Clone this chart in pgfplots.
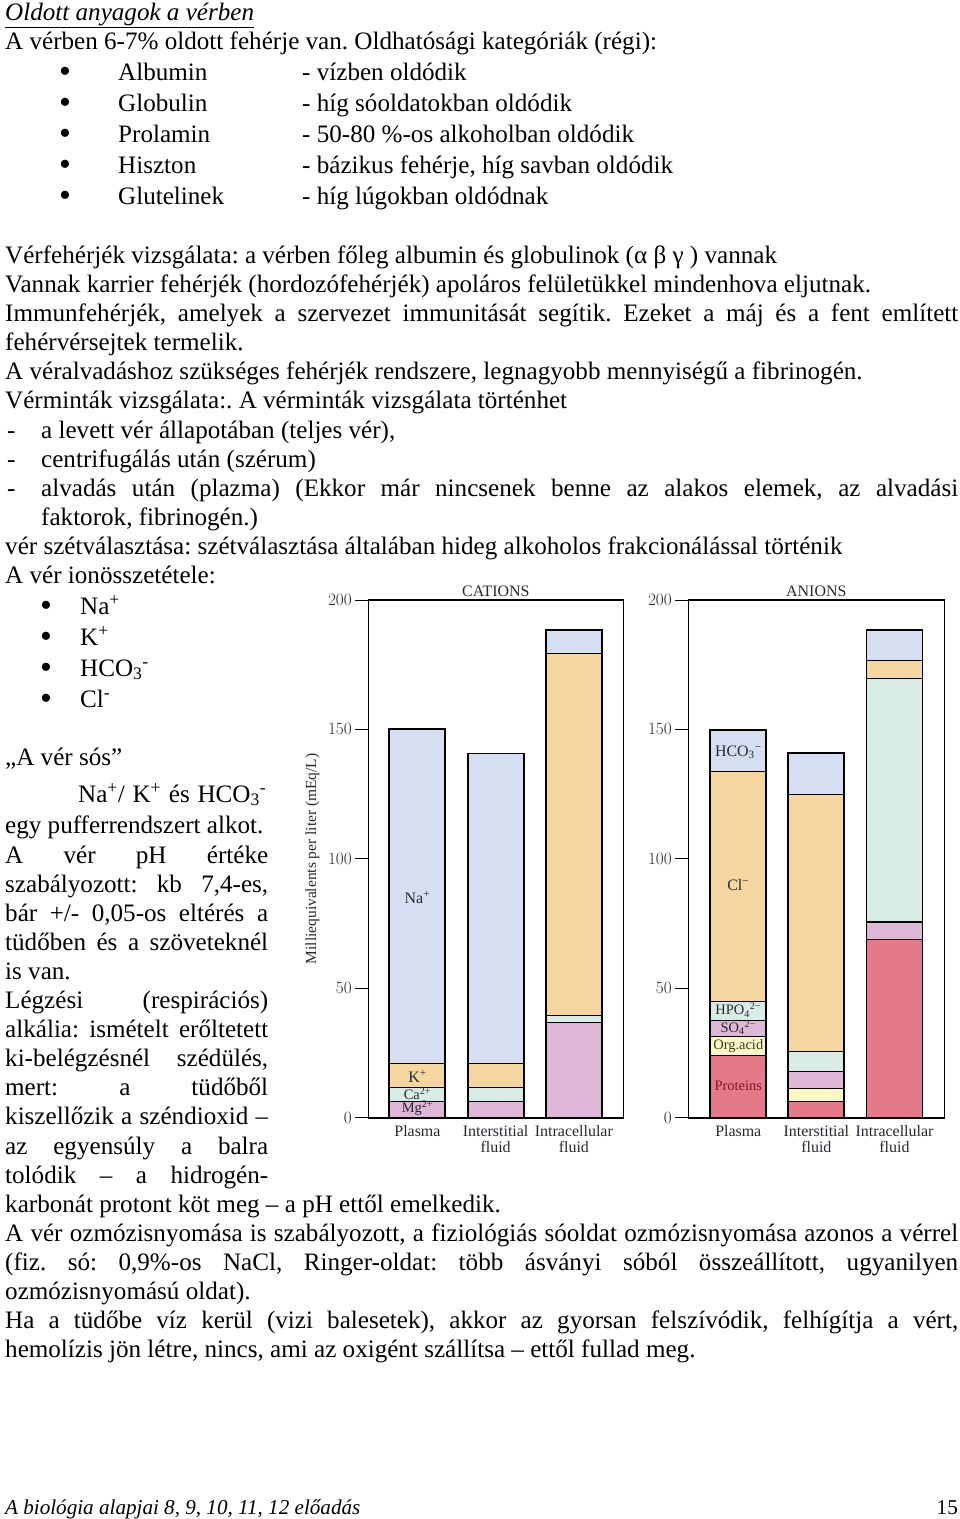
\documentclass[border=0pt]{standalone}
\usepackage{fontspec}
\setmainfont{Liberation Serif}
\usepackage{pgfplots}
\usepackage{pgfplotstable}
\pgfplotsset{compat=1.18}
\frenchspacing

\definecolor{cblue}{RGB}{214,223,242}
\definecolor{corange}{RGB}{246,214,160}
\definecolor{cgreen}{RGB}{216,235,228}
\definecolor{cpink}{RGB}{221,183,213}
\definecolor{cyellow}{RGB}{252,246,198}
\definecolor{cred}{RGB}{227,121,137}
\definecolor{ctext}{RGB}{40,40,50}
\definecolor{corg}{RGB}{60,60,30}
\definecolor{cprot}{RGB}{125,25,45}

\newcommand\body{\fontsize{25.2}{29}\selectfont}
\newcommand\chartfs{\fontsize{16}{16}\selectfont}
\newcommand\smallfs{\fontsize{14.5}{14.5}\selectfont}
\newcommand\bul{\raisebox{-2.5bp}{\fontsize{34}{34}\selectfont\textbullet}}
% one line of text, left aligned on its baseline
\newcommand\Tx[3]{\node[anchor=base west,inner sep=0pt,font=\body] at (#1bp,-#2bp) {#3};}
% one justified line
\newcommand\Jx[4]{\node[anchor=base west,inner sep=0pt,font=\body] at (#1bp,-#2bp) {\makebox[#3bp][s]{#4}};}

% cations, bottom to top
\pgfplotstableread{
x Mg Ca K Na tot
0 6.4 5.3 9.3 129.0 150.0
1 6.4 5.3 9.3 119.7 140.7
2 36.8 2.8 139.9 8.8 188.3
}\cations
% anions, bottom to top
\pgfplotstableread{
x Prot Org SO HPO Cl HCO tot
0 24.2 7.2 6.2 7.3 88.8 16.1 149.8
1 6.3 4.9 6.7 7.8 99.3 15.9 140.9
2 68.7 0 6.9 94.2 6.8 11.7 188.3
}\anions

\pgfplotsset{
  ionaxis/.style={
    scale only axis, height=517.7bp,
    ymin=0, ymax=200, ytick={0,50,100,150,200},
    enlargelimits=false,
    ytick pos=left, tick align=outside, major tick length=13bp,
    xtick={0,1,2},
    xticklabels={Plasma,{Interstitial\\fluid},{Intracellular\\fluid}},
    xtick style={draw=none},
    ytick style={black, line width=1bp},
    axis line style={black, line width=1.6bp},
    ticklabel style={font=\chartfs, text=ctext},
    xticklabel style={align=center, yshift=8.5bp},
    every axis title shift=0pt,
    title style={font=\chartfs, text=ctext},
    ybar stacked, bar width=56bp,
    clip=false,
  },
  outline/.style={
    scale only axis, height=517.7bp, ymin=0, ymax=200,
    enlargelimits=false, hide axis, ybar, bar width=56bp, clip=false,
  },
  seg/.style={draw=black, line width=1.1bp, fill=#1},
}
\tikzset{lab/.style={font=\chartfs, text=ctext, inner sep=0pt}}

\begin{document}
\begin{tikzpicture}
\path[use as bounding box, fill=white] (0,0) rectangle (960bp,-1519bp);

\Tx{5}{20}{\underline{\textit{Oldott anyagok a vérben}}}
\Tx{5}{49}{A vérben 6-7\% oldott fehérje van. Oldhatósági kategóriák (régi):}
\Tx{59}{80}{\bul}\Tx{118}{80}{Albumin}\Tx{302}{80}{- vízben oldódik}
\Tx{59}{111}{\bul}\Tx{118}{111}{Globulin}\Tx{302}{111}{- híg sóoldatokban oldódik}
\Tx{59}{142}{\bul}\Tx{118}{142}{Prolamin}\Tx{302}{142}{- 50-80 \%-os alkoholban oldódik}
\Tx{59}{173}{\bul}\Tx{118}{173}{Hiszton}\Tx{302}{173}{- bázikus fehérje, híg savban oldódik}
\Tx{59}{204}{\bul}\Tx{118}{204}{Glutelinek}\Tx{302}{204}{- híg lúgokban oldódnak}

\Tx{5}{263}{Vérfehérjék vizsgálata: a vérben főleg albumin és globulinok (α β γ ) vannak}
\Tx{5}{292}{Vannak karrier fehérjék (hordozófehérjék) apoláros felületükkel mindenhova eljutnak.}
\Jx{5}{321}{953}{Immunfehérjék, amelyek a szervezet immunitását segítik. Ezeket a máj és a fent említett}
\Tx{5}{350}{fehérvérsejtek termelik.}
\Tx{5}{379}{A véralvadáshoz szükséges fehérjék rendszere, legnagyobb mennyiségű a fibrinogén.}
\Tx{5}{408}{Vérminták vizsgálata:. A vérminták vizsgálata történhet}
\Tx{7}{438}{-}\Tx{41}{438}{a levett vér állapotában (teljes vér),}
\Tx{7}{467}{-}\Tx{41}{467}{centrifugálás után (szérum)}
\Tx{7}{496}{-}\Jx{41}{496}{917}{alvadás után (plazma) (Ekkor már nincsenek benne az alakos elemek, az alvadási}
\Tx{41}{525}{faktorok, fibrinogén.)}
\Tx{5}{554}{vér szétválasztása: szétválasztása általában hideg alkoholos frakcionálással történik}
\Tx{5}{583}{A vér ionösszetétele:}
\Tx{40}{614}{\bul}\Tx{80}{614}{Na\textsuperscript{+}}
\Tx{40}{645}{\bul}\Tx{80}{645}{K\textsuperscript{+}}
\Tx{40}{676}{\bul}\Tx{80}{676}{HCO\textsubscript{3}\textsuperscript{-}}
\Tx{40}{707}{\bul}\Tx{80}{707}{Cl\textsuperscript{-}}

\Tx{5}{765}{„A vér sós”}
\Jx{78}{802}{188}{Na\textsuperscript{+}/ K\textsuperscript{+} és HCO\textsubscript{3}\textsuperscript{-}}
\Tx{5}{833}{egy pufferrendszert alkot.}
\Jx{5}{863}{263}{A vér pH értéke}
\Jx{5}{892}{263}{szabályozott: kb 7,4-es,}
\Jx{5}{921}{263}{bár +/- 0,05-os eltérés a}
\Jx{5}{950}{263}{tüdőben és a szöveteknél}
\Tx{5}{979}{is van.}
\Jx{5}{1008}{263}{Légzési (respirációs)}
\Jx{5}{1037}{263}{alkália: ismételt erőltetett}
\Jx{5}{1066}{263}{ki-belégzésnél szédülés,}
\Jx{5}{1095}{263}{mert: a tüdőből}
\Jx{5}{1124}{263}{kiszellőzik a széndioxid –}
\Jx{5}{1154}{263}{az egyensúly a balra}
\Jx{5}{1183}{263}{tolódik – a hidrogén-}
\Tx{5}{1212}{karbonát protont köt meg – a pH ettől emelkedik.}
\Jx{5}{1241}{953}{A vér ozmózisnyomása is szabályozott, a fiziológiás sóoldat ozmózisnyomása azonos a vérrel}
\Jx{5}{1270}{953}{(fiz. só: 0,9\%-os NaCl, Ringer-oldat: több ásványi sóból összeállított, ugyanilyen}
\Tx{5}{1299}{ozmózisnyomású oldat).}
\Jx{5}{1328}{953}{Ha a tüdőbe víz kerül (vizi balesetek), akkor az gyorsan felszívódik, felhígítja a vért,}
\Tx{5}{1357}{hemolízis jön létre, nincs, ami az oxigént szállítsa – ettől fullad meg.}

\node[anchor=base west,inner sep=0pt,font=\fontsize{21.2}{23}\selectfont\itshape] at (5bp,-1514bp) {A biológia alapjai 8, 9, 10, 11, 12 előadás};
\node[anchor=base east,inner sep=0pt,font=\fontsize{21.2}{23}\selectfont] at (958bp,-1514bp) {15};

% ---- cations ----
\begin{axis}[ionaxis, at={(368.3bp,-1117.7bp)}, anchor=south west,
  width=255bp, xmin=-0.628, xmax=2.632, title={CATIONS},
  ylabel={Milliequivalents per liter (mEq/L)},
  ylabel style={at={(axis description cs:-0.2196,0.5)}, anchor=center,
    font=\fontsize{15.5}{15.5}\selectfont, text=ctext}]
\addplot[seg=cpink]   table[x=x,y=Mg]{\cations};
\addplot[seg=cgreen]  table[x=x,y=Ca]{\cations};
\addplot[seg=corange] table[x=x,y=K]{\cations};
\addplot[seg=cblue]   table[x=x,y=Na]{\cations};
\end{axis}
\begin{axis}[outline, at={(368.3bp,-1117.7bp)}, anchor=south west,
  width=255bp, xmin=-0.628, xmax=2.632]
\addplot[draw=black, fill=none, line width=1.9bp] table[x=x,y=tot]{\cations};
\node[lab] at (axis cs:0,85.2) {Na\textsuperscript{+}};
\node[lab] at (axis cs:0,16.1) {K\textsuperscript{+}};
\node[lab, font=\smallfs] at (axis cs:0,9.3) {Ca\textsuperscript{2+}};
\node[lab, font=\smallfs] at (axis cs:0,3.6) {Mg\textsuperscript{2+}};
\end{axis}

% ---- anions ----
\begin{axis}[ionaxis, at={(688.3bp,-1117.7bp)}, anchor=south west,
  width=256bp, xmin=-0.64, xmax=2.638, title={ANIONS}]
\addplot[seg=cred]    table[x=x,y=Prot]{\anions};
\addplot[seg=cyellow] table[x=x,y=Org]{\anions};
\addplot[seg=cpink]   table[x=x,y=SO]{\anions};
\addplot[seg=cgreen]  table[x=x,y=HPO]{\anions};
\addplot[seg=corange] table[x=x,y=Cl]{\anions};
\addplot[seg=cblue]   table[x=x,y=HCO]{\anions};
\end{axis}
\begin{axis}[outline, at={(688.3bp,-1117.7bp)}, anchor=south west,
  width=256bp, xmin=-0.64, xmax=2.638]
\addplot[draw=black, fill=none, line width=1.9bp] table[x=x,y=tot]{\anions};
\node[lab] at (axis cs:0,141.1) {HCO\textsubscript{3}\textsuperscript{−}};
\node[lab] at (axis cs:0,89.8) {Cl\textsuperscript{−}};
\node[lab, font=\smallfs] at (axis cs:0,41.6) {HPO\textsubscript{4}\textsuperscript{2−}};
\node[lab, font=\smallfs] at (axis cs:0,34.8) {SO\textsubscript{4}\textsuperscript{2−}};
\node[lab, font=\smallfs, text=corg] at (axis cs:0,27.8) {Org.acid};
\node[lab, font=\smallfs, text=cprot] at (axis cs:0,12.2) {Proteins};
\end{axis}
\end{tikzpicture}
\end{document}
